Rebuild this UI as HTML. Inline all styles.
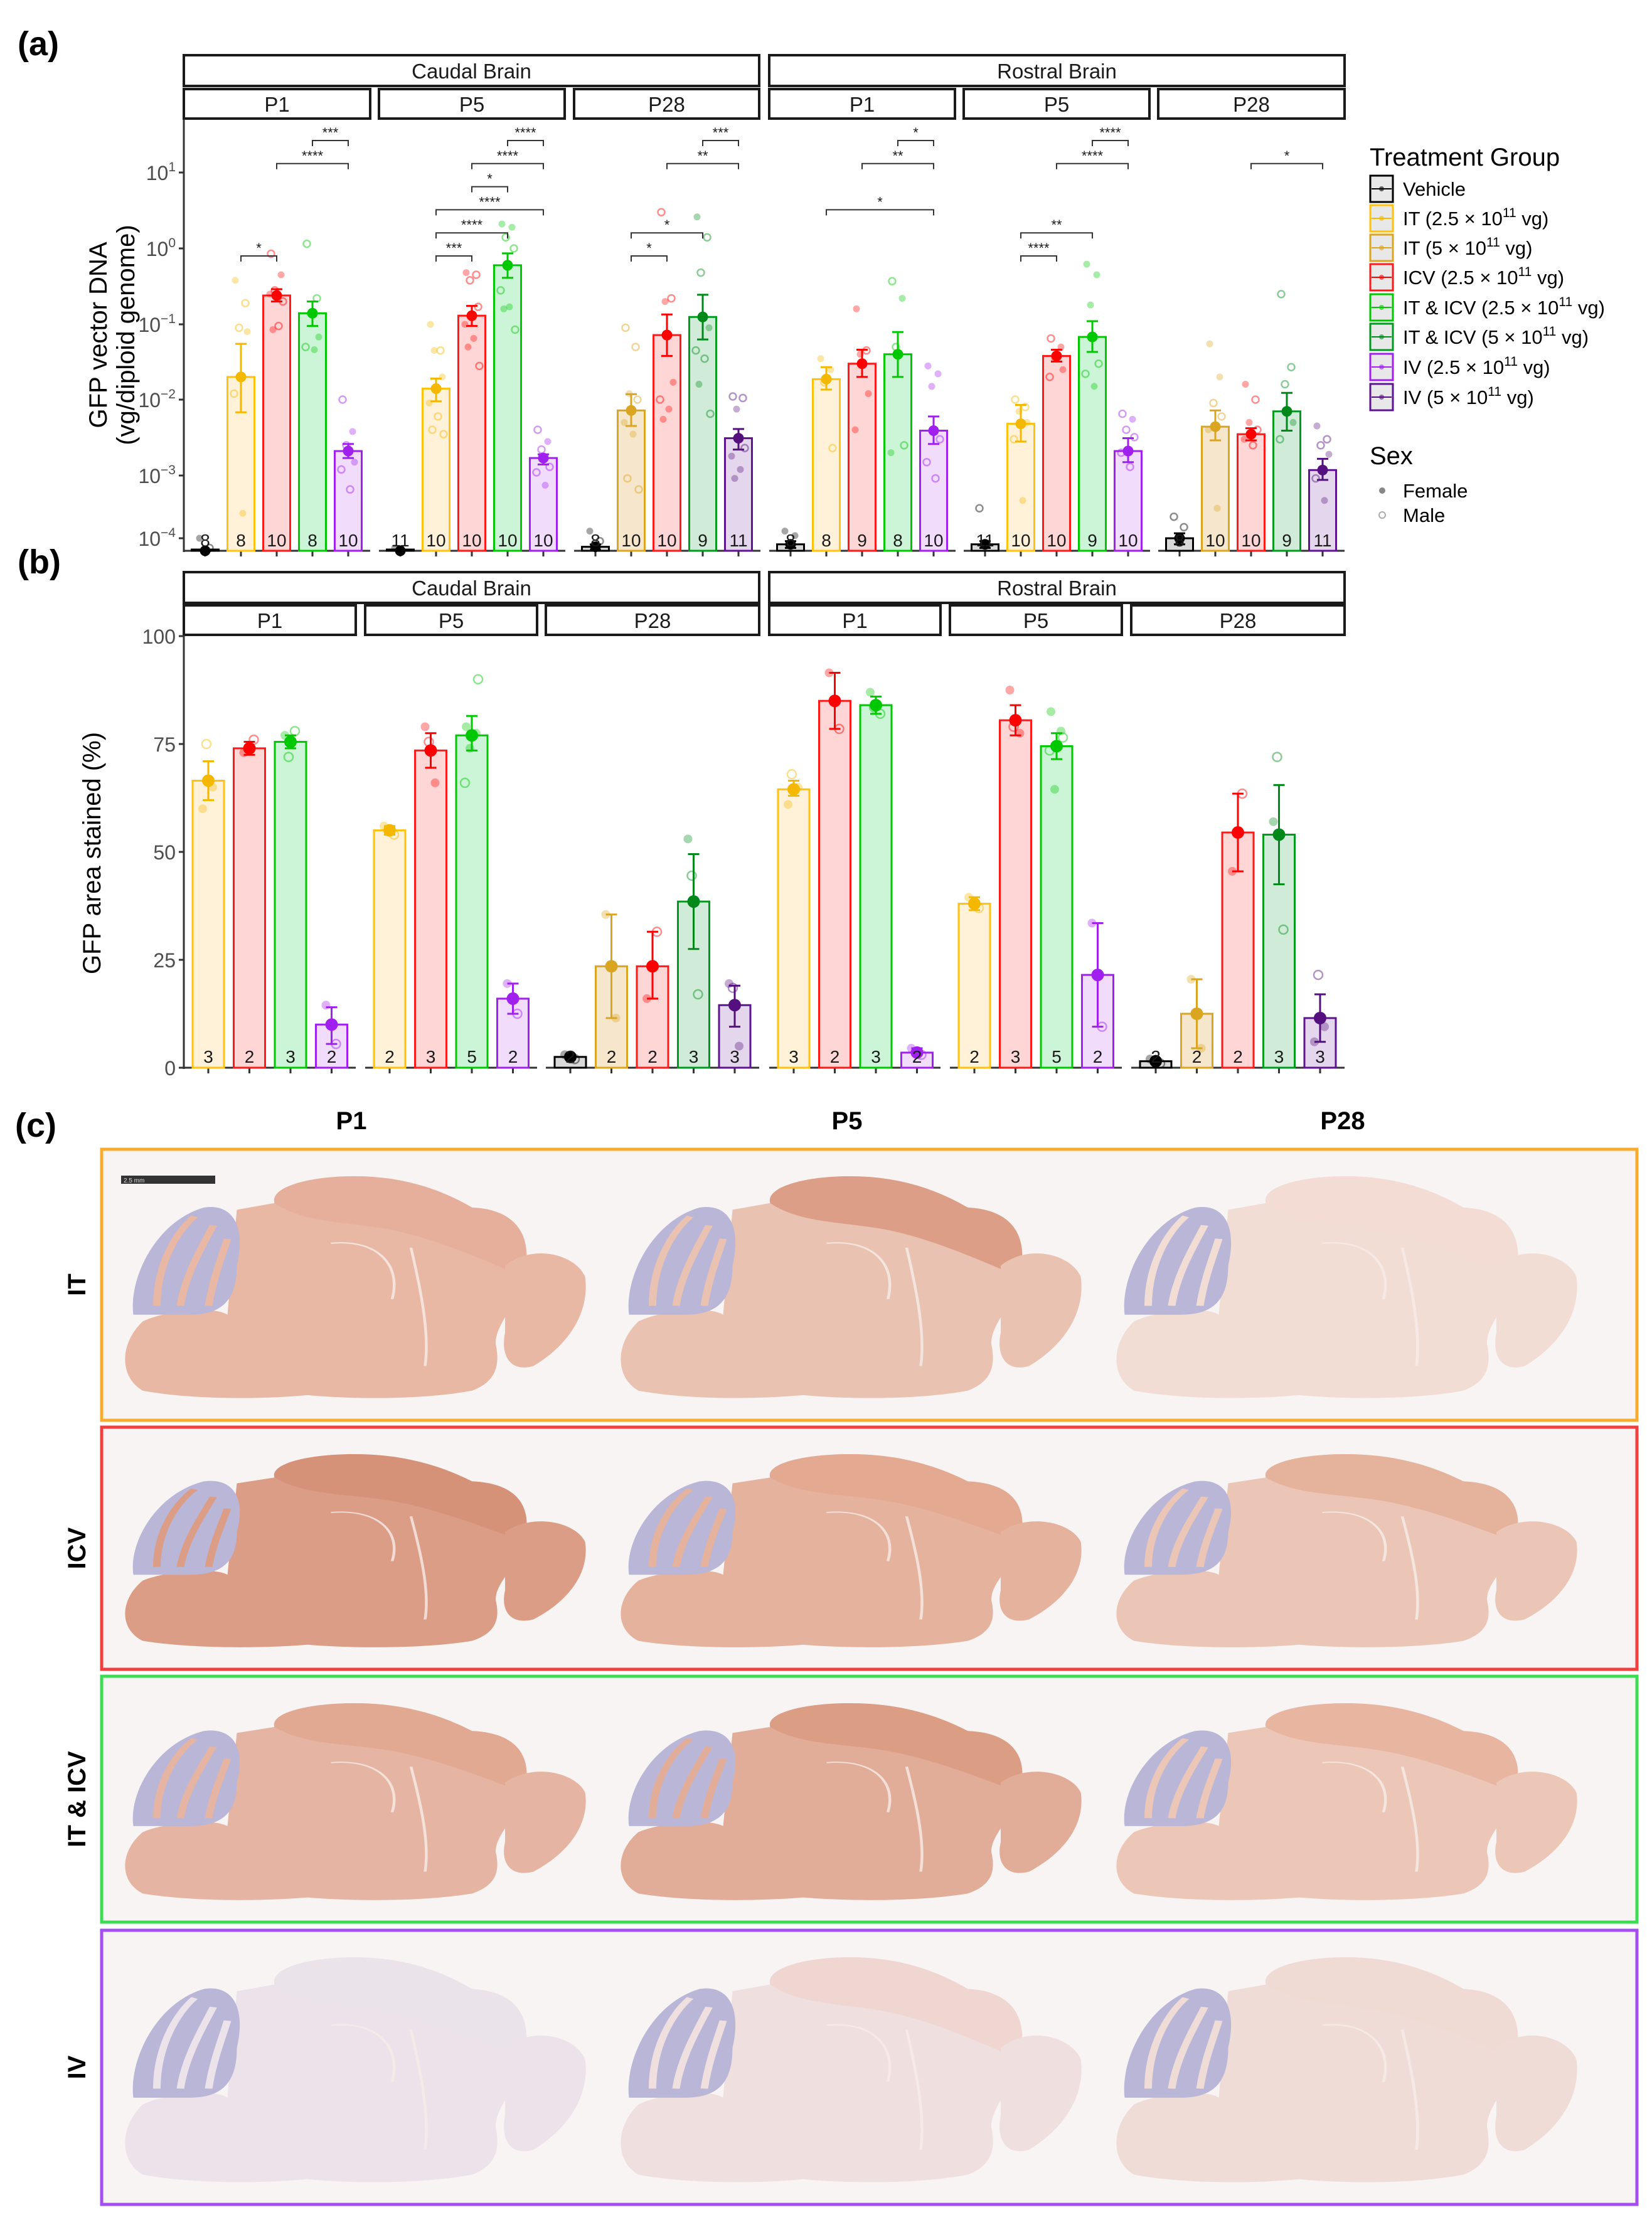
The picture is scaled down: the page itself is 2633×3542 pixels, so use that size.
<!DOCTYPE html>
<html><head><meta charset="utf-8">
<style>
html,body{margin:0;padding:0;background:#fff;}
svg{display:block;font-family:"Liberation Sans",Arial,sans-serif;}
</style></head>
<body>
<svg id="fig" width="2633" height="3542" viewBox="0 0 2633 3542" xmlns="http://www.w3.org/2000/svg">
<rect width="2633" height="3542" fill="#fff"/>
</svg>
<script>
// ---------- DATA ----------
const groupNames = ["Vehicle","IT (2.5","IT (5","ICV (2.5","IT & ICV (2.5","IT & ICV (5","IV (2.5","IV (5"];
const groupStroke = ["#000000","#ffc20e","#daa520","#ff1a1a","#00c800","#009a1e","#a020f0","#5e1390"];
const groupFill = ["#d9d9d9","#fff2d9","#f6e6cc","#ffd6d6","#ccf5d8","#d0ecd8","#f1dcfc","#e4d6ec"];
const groupPoint = ["#000000","#f5b800","#daa520","#ff0000","#00c800","#00891a","#a020f0","#55107f"];
const regionNames = ["Caudal Brain","Rostral Brain"];
const ageNames = ["P1","P5","P28"];

// Panel (a): GFP vector DNA (vg/diploid genome), log scale
const aGroups = [[0,1,3,4,6],[0,1,3,4,6],[0,2,3,5,7],[0,1,3,4,6],[0,1,3,4,6],[0,2,3,5,7]];
const aMeans = [
 [6e-5,0.020,0.24,0.14,0.0021],
 [6e-5,0.014,0.13,0.60,0.0017],
 [7.3e-5,0.0072,0.072,0.125,0.0031],
 [8e-5,0.0187,0.030,0.040,0.0039],
 [8e-5,0.0048,0.038,0.068,0.0021],
 [1e-4,0.0044,0.0035,0.0070,0.00118]];
const aLow = [
 [6e-5,0.0068,0.20,0.095,0.0017],
 [6e-5,0.0095,0.095,0.41,0.0014],
 [6.5e-5,0.0045,0.038,0.063,0.0022],
 [7e-5,0.0136,0.020,0.020,0.0026],
 [7e-5,0.0028,0.032,0.043,0.0015],
 [8e-5,0.0029,0.0029,0.0039,0.00085]];
const aHigh = [
 [6e-5,0.055,0.29,0.20,0.0026],
 [6e-5,0.019,0.175,0.86,0.0019],
 [8e-5,0.0118,0.135,0.245,0.0041],
 [9e-5,0.027,0.046,0.079,0.006],
 [9e-5,0.0085,0.046,0.11,0.0031],
 [1.2e-4,0.0072,0.0042,0.0123,0.00166]];
const aN = [[8,8,10,8,10],[11,10,10,10,10],[8,10,10,9,11],[8,8,9,8,10],[11,10,10,9,10],[8,10,10,9,11]];
// points: [value, sex] sex 0=female(filled) 1=male(open)
const aPoints = [
 [[[1e-4,0],[7e-5,1]],
  [[0.38,0],[0.19,1],[0.09,1],[0.08,0],[0.012,1],[0.00025,0]],
  [[0.85,1],[0.45,0],[0.28,1],[0.2,1],[0.25,0],[0.095,1],[0.085,0]],
  [[1.15,1],[0.22,1],[0.14,0],[0.068,0],[0.05,1],[0.046,0]],
  [[0.01,1],[0.0038,0],[0.0025,1],[0.0015,0],[0.0012,1],[0.0006,1]]],
 [[[7e-5,0]],
  [[0.1,0],[0.045,1],[0.045,0],[0.02,0],[0.009,0],[0.006,1],[0.004,1],[0.0035,1]],
  [[0.48,0],[0.45,1],[0.38,1],[0.17,1],[0.1,0],[0.065,0],[0.05,0],[0.028,1]],
  [[2.1,0],[1.9,0],[1.4,1],[1.0,1],[0.28,1],[0.17,0],[0.16,0],[0.085,1]],
  [[0.004,1],[0.0028,0],[0.0022,1],[0.0013,1],[0.0011,1],[0.0007,0]]],
 [[[1.3e-4,0],[9e-5,1]],
  [[0.09,1],[0.05,1],[0.012,0],[0.01,1],[0.005,0],[0.0035,0],[0.0009,1],[0.0006,1]],
  [[3.0,1],[0.22,1],[0.2,0],[0.017,0],[0.01,1],[0.0075,0],[0.0055,0]],
  [[2.6,0],[1.4,1],[0.48,1],[0.09,0],[0.045,1],[0.035,1],[0.016,0],[0.0065,1]],
  [[0.011,1],[0.0105,1],[0.0075,0],[0.0023,1],[0.0018,0],[0.0012,0],[0.0009,0]]],
 [[[1.3e-4,0],[1.1e-4,0]],
  [[0.035,0],[0.025,0],[0.017,1],[0.0023,1]],
  [[0.16,0],[0.045,1],[0.04,0],[0.012,0],[0.004,0]],
  [[0.37,1],[0.22,0],[0.05,1],[0.0025,1],[0.002,0]],
  [[0.028,0],[0.022,0],[0.015,0],[0.003,1],[0.0015,1],[0.0009,1]]],
 [[[3e-4,1]],
  [[0.01,1],[0.008,1],[0.007,0],[0.005,0],[0.003,1],[0.0004,0]],
  [[0.065,1],[0.05,0],[0.035,0],[0.025,0],[0.02,1]],
  [[0.62,0],[0.45,0],[0.18,0],[0.03,1],[0.022,1],[0.015,0]],
  [[0.0065,1],[0.0055,0],[0.004,1],[0.0032,1],[0.002,1],[0.0013,1]]],
 [[[2.2e-4,1],[1.5e-4,1]],
  [[0.055,0],[0.02,0],[0.009,1],[0.006,1],[0.004,0],[0.0003,0]],
  [[0.016,0],[0.01,1],[0.005,0],[0.004,1],[0.003,0],[0.0025,1]],
  [[0.25,1],[0.027,1],[0.016,1],[0.005,0],[0.003,1]],
  [[0.0045,0],[0.003,1],[0.0025,1],[0.0019,0],[0.0009,1],[0.0004,0]]]];
// significance brackets: [panel, fromBarIdx, toBarIdx, level, label]
const aBrackets = [
 [0,3,4,0,"***"],[0,2,4,1,"****"],[0,1,2,5,"*"],
 [1,3,4,0,"****"],[1,2,4,1,"****"],[1,2,3,2,"*"],[1,1,4,3,"****"],[1,1,3,4,"****"],[1,1,2,5,"***"],
 [2,3,4,0,"***"],[2,2,4,1,"**"],[2,1,3,4,"*"],[2,1,2,5,"*"],
 [3,3,4,0,"*"],[3,2,4,1,"**"],[3,1,4,3,"*"],
 [4,3,4,0,"****"],[4,2,4,1,"****"],[4,1,3,4,"**"],[4,1,2,5,"****"],
 [5,2,4,1,"*"]];
const aTickExp = [1,0,-1,-2,-3,-4];

// Panel (b): GFP area stained (%)
const bGroups = [[1,3,4,6],[1,3,4,6],[0,2,3,5,7],[1,3,4,6],[1,3,4,6],[0,2,3,5,7]];
const bMeans = [[66.5,74,75.5,10],[55,73.5,77,16],[2.5,23.5,23.5,38.5,14.5],[64.5,85,84,3.5],[38,80.5,74.5,21.5],[1.5,12.5,54.5,54,11.5]];
const bLow = [[62,72.5,74,5.5],[54,69.5,73.5,12.5],[2,11.5,16,27.5,9.5],[63,78.5,82,3],[36.5,77,71.5,9.5],[1,4.5,45.5,42.5,6]];
const bHigh = [[71,75.5,77,14],[56,77.5,81.5,19.5],[3,35.5,31.5,49.5,19],[66.5,91.5,86,4.5],[39.5,84,77.5,33.5],[2,20.5,63.5,65.5,17]];
const bN = [[3,2,3,2],[2,3,5,2],[2,2,2,3,3],[3,2,3,2],[2,3,5,2],[2,2,2,3,3]];
const bPoints = [
 [[[60,0],[65,0],[75,1]],[[73,0],[76,1]],[[77,0],[78,1],[72,1]],[[14.5,0],[5.5,1]]],
 [[[56,0],[54,1]],[[79,0],[66,0],[75.5,1]],[[79,0],[77.5,0],[74,0],[90,1],[66,1]],[[19.5,0],[12.5,1]]],
 [[[3,0],[2,1]],[[35.5,0],[11.5,0]],[[16,0],[31.5,1]],[[53,0],[17,1],[44.5,1]],[[19.5,0],[5,0],[18.5,1]]],
 [[[61,0],[65,0],[68,1]],[[91.5,0],[78.5,1]],[[87,0],[82,1],[83.5,1]],[[4.5,0],[3,1]]],
 [[[39.5,0],[37,1]],[[87.5,0],[77.5,0],[79,1]],[[82.5,0],[78,0],[64.5,0],[76.5,1],[73.5,1]],[[33.5,0],[9.5,1]]],
 [[[2,0],[1,1]],[[20.5,0],[4.5,0]],[[45.5,0],[63.5,1]],[[57,0],[32,1],[72,1]],[[6,0],[9.5,0],[21.5,1]]]];
const bTicks = [0,25,50,75,100];

// ---------- HELPERS ----------
const NS="http://www.w3.org/2000/svg";
const svg=document.getElementById('fig');
function mk(tag,attrs,parent,txt){const e=document.createElementNS(NS,tag);for(const k in attrs)e.setAttribute(k,attrs[k]);if(txt!==undefined)e.textContent=txt;(parent||svg).appendChild(e);return e;}
const jit=[-9,7,-3,10,-11,3,-6,12,-1,8,-12];

// ---------- PANEL A ----------
const aLeft=[293,604,915,1226,1536,1846], aW=297;
const aLogs=[-4,-3,-2,-1,0,1], aPx=[858,758,637,517,396,275];
function yA(v){let l=Math.log10(v);
 if(l<=-4)return Math.min(878,858+(-4-l)*100);
 for(let i=0;i<aLogs.length-1;i++){if(l<=aLogs[i+1]){const t=(l-aLogs[i]);return aPx[i]+t*(aPx[i+1]-aPx[i]);}}
 return 275+(l-1)*(-120.6);}
function xA(p,i){return aLeft[p]+34+i*57;}

function strips(yTop,yTop2,lefts,widths,gName){
 // region strips
 [[293,1210],[1226,2143]].forEach((r,ri)=>{
  const g=mk('g',{});
  
  
  mk('rect',{x:r[0],y:yTop,width:r[1]-r[0],height:49,fill:'#fff',stroke:'#1a1a1a','stroke-width':4},g);
  mk('text',{x:(r[0]+r[1])/2,y:yTop+37,'font-size':33,'text-anchor':'middle',fill:'#1a1a1a'},g,regionNames[ri]);
 });
 lefts.forEach((l,p)=>{
  const g=mk('g',{});
  
  
  mk('rect',{x:l,y:yTop2,width:widths[p],height:47,fill:'#fff',stroke:'#1a1a1a','stroke-width':4},g);
  mk('text',{x:l+widths[p]/2,y:yTop2+36,'font-size':33,'text-anchor':'middle',fill:'#1a1a1a'},g,ageNames[p%3]);
 });
}

function drawBars(gName,p,groups,means,lows,highs,ns,pts,xf,yf,bw,baseY,nY,r){
 const g=mk('g',{});
 
 
 groups.forEach((gi,i)=>{
  const cx=xf(p,i), top=yf(means[i]);
  const bar=mk('rect',{x:cx-bw/2,y:Math.min(top,baseY-2),width:bw,height:Math.max(2,baseY-top),fill:groupFill[gi],stroke:groupStroke[gi],'stroke-width':3},g);
  
  
  pts[i].forEach((pt,k)=>{
   const px=cx+jit[k%jit.length], py=yf(pt[0]);
   const c=pt[1]===0?mk('circle',{cx:px,cy:py,r:r,fill:groupPoint[gi],'fill-opacity':0.35},g):mk('circle',{cx:px,cy:py,r:r,fill:'none',stroke:groupPoint[gi],'stroke-opacity':0.45,'stroke-width':2.5},g);
   
   
  });
  const yl=yf(lows[i]), yh=yf(highs[i]);
  const eb=mk('path',{d:`M${cx},${yl}V${yh}M${cx-9},${yl}H${cx+9}M${cx-9},${yh}H${cx+9}`,stroke:groupPoint[gi],'stroke-width':3,fill:'none'},g);
  
  
  const m=mk('circle',{cx:cx,cy:top,r:r+3,fill:groupPoint[gi]},g);
  
  
  const t=mk('text',{x:cx,y:nY,'font-size':28,'text-anchor':'middle',fill:'#1a1a1a'},g,String(ns[i]));
  
  
 });
}

// (a) label
mk('text',{x:28,y:88,'font-size':54,'font-weight':'bold',fill:'#000',},svg,'(a)');
strips(88,142,aLeft,[297,296,295,296,296,297],'a');
// y axis
mk('line',{x1:293,y1:190,x2:293,y2:880,stroke:'#333','stroke-width':3,});
aTickExp.forEach(e=>{
 const y=yA(Math.pow(10,e));
 mk('line',{x1:285,y1:y,x2:293,y2:y,stroke:'#333','stroke-width':3});
 const t=mk('text',{x:280,y:y+12,'font-size':32,'text-anchor':'end',fill:'#4d4d4d'});
 
 
 const s1=mk('tspan',{},t,'10');
 const s2=mk('tspan',{dy:-14,'font-size':21},t,String(e).replace('-','\u2212'));
 t.setAttribute('x',280);
});
const aTitle=mk('text',{transform:'translate(0,0)','font-size':40,'text-anchor':'middle',fill:'#000',});
mk('tspan',{x:0,y:0},aTitle,'GFP vector DNA');
mk('tspan',{x:0,y:44},aTitle,'(vg/diploid genome)');
aTitle.setAttribute('transform','translate(170,534) rotate(-90)');
aLeft.forEach((l,p)=>{
 mk('line',{x1:l,y1:878,x2:l+aW,y2:878,stroke:'#333','stroke-width':3,});
 aGroups[p].forEach((g,i)=>mk('line',{x1:xA(p,i),y1:878,x2:xA(p,i),y2:887,stroke:'#333','stroke-width':3}));
 drawBars('a',p,aGroups[p],aMeans[p],aLow[p],aHigh[p],aN[p],aPoints[p],xA,yA,43,878,871,5.5);
});
aBrackets.forEach(b=>{
 const [p,i1,i2,lvl,lab]=b;
 const x1=xA(p,i1),x2=xA(p,i2),y=224+lvl*36.8;
 const g=mk('g',{});
 
 
 mk('path',{d:`M${x1},${y+9}V${y}H${x2}V${y+9}`,stroke:'#333','stroke-width':2,fill:'none'},g);
 mk('text',{x:(x1+x2)/2,y:y-5,'font-size':22,'text-anchor':'middle',fill:'#1a1a1a'},g,lab);
});
// legend
mk('text',{x:2183,y:264,'font-size':40,fill:'#000',},svg,'Treatment Group');
const legY=[301,348,395,442,490,537,585,633];
groupNames.forEach((n,i)=>{
 const g=mk('g',{});
 
 
 const y=legY[i];
 mk('rect',{x:2184,y:y-21,width:36,height:42,fill:'#e8e8e8',stroke:groupStroke[i],'stroke-width':3},g);
 mk('line',{x1:2186,y1:y,x2:2218,y2:y,stroke:groupPoint[i],'stroke-width':2},g);
 mk('circle',{cx:2202,cy:y,r:4,fill:groupPoint[i],'fill-opacity':0.6},g);
 const t=mk('text',{x:2236,y:y+11,'font-size':31,fill:'#000'},g);
 if(i===0){t.textContent='Vehicle';}
 else{mk('tspan',{},t,n+' \u00d7 10');mk('tspan',{dy:-13,'font-size':21},t,'11');mk('tspan',{dy:13},t,' vg)');}
});
mk('text',{x:2183,y:740,'font-size':40,fill:'#000',},svg,'Sex');
const sx1=mk('g',{});
mk('circle',{cx:2203,cy:782,r:5,fill:'#888'},sx1);mk('text',{x:2236,y:793,'font-size':31},sx1,'Female');
const sx2=mk('g',{});
mk('circle',{cx:2203,cy:821,r:5,fill:'none',stroke:'#aaa','stroke-width':2},sx2);mk('text',{x:2236,y:832,'font-size':31},sx2,'Male');

// ---------- PANEL B ----------
const bLeft=[293,582,870,1226,1514,1803], bWid=[274,274,340,273,274,340];
function yB(v){return 1702-v*6.88;}
function xB(p,i){return bLeft[p]+39+i*65.5;}
mk('text',{x:28,y:914,'font-size':54,'font-weight':'bold',fill:'#000',},svg,'(b)');
strips(912,965,bLeft,bWid,'b');
mk('line',{x1:293,y1:1013,x2:293,y2:1704,stroke:'#333','stroke-width':3,});
bTicks.forEach(v=>{
 const y=yB(v);
 mk('line',{x1:285,y1:y,x2:293,y2:y,stroke:'#333','stroke-width':3});
 const t=mk('text',{x:280,y:y+12,'font-size':32,'text-anchor':'end',fill:'#4d4d4d'},svg,String(v));
 
 
});
const bTitle=mk('text',{'font-size':40,'text-anchor':'middle',fill:'#000',transform:'translate(160,1360) rotate(-90)',},svg,'GFP area stained (%)');
bLeft.forEach((l,p)=>{
 mk('line',{x1:l,y1:1702,x2:l+bWid[p],y2:1702,stroke:'#333','stroke-width':3,});
 bGroups[p].forEach((g,i)=>mk('line',{x1:xB(p,i),y1:1702,x2:xB(p,i),y2:1711,stroke:'#333','stroke-width':3}));
 drawBars('b',p,bGroups[p],bMeans[p],bLow[p],bHigh[p],bN[p],bPoints[p],xB,yB,50,1702,1694,7);
});

// ---------- PANEL C ----------
mk('text',{x:24,y:1812,'font-size':54,'font-weight':'bold',fill:'#000',},svg,'(c)');
const colX=[580,1370,2160];
ageNames.forEach((a,i)=>{const t=mk('text',{x:colX[i]-20,y:1800,'font-size':40,'font-weight':'bold','text-anchor':'middle'},svg,a);});
const rows=[
 {name:'IT',y0:1830,y1:2266,col:'#f8ac2e',fills:['#e8b8a4','#eac2b2','#f2ddd4'],top:['#e4ad98','#d8957c','#f1dcd3']},
 {name:'ICV',y0:2273,y1:2663,col:'#f43f3f',fills:['#dc9d86','#e5b29d','#ebc6b6'],top:['#d58f76','#e2a68f','#e3ac95']},
 {name:'IT & ICV',y0:2670,y1:3066,col:'#3ddc55',fills:['#e5b4a2','#e2ad98','#ecc6b6'],top:['#e0a58f','#d9997f','#e6b09b']},
 {name:'IV',y0:3075,y1:3516,col:'#a64df2',fills:['#ece3ea','#efdfdf','#f0dcd6'],top:['#ebe2ea','#efd3cd','#efd9d3']}];
const body="M25,15 L33,12 C32,5 40,0 50,0 C62,0 70,8 75,14 C85,15 88,28 86,45 C84,60 80,66 80,75 C81,85 80,92 75,96 C65,100 50,100 40,98 C30,100 15,100 5,96 C0,90 0,75 5,65 C10,60 20,58 23,62 Z";
const cereb="M3,62 C2,45 8,20 18,14 C24,12 27,22 25,40 C25,55 22,62 15,62 Z";
const cortex="M33,12 C32,5 40,0 50,0 C62,0 70,8 75,14 C85,15 88,28 86,45 C80,40 70,30 60,25 C50,20 40,22 33,12 Z";
const bulb="M82,40 C88,30 97,35 99,45 C100,60 96,75 88,85 C83,88 81,80 82,70 Z";
rows.forEach((r,ri)=>{
 const g=mk('g',{});
 
 
 mk('rect',{x:162,y:r.y0+2,width:2447,height:r.y1-r.y0-4,fill:'#f8f4f3',stroke:r.col,'stroke-width':5},g);
 const lt=mk('text',{'font-size':40,'font-weight':'bold','text-anchor':'middle',transform:`translate(136,${(r.y0+r.y1)/2}) rotate(-90)`},g,r.name);
 
 
 const h=r.y1-r.y0;
 colX.forEach((cx,ci)=>{
  const bw=750, bh=h-80, bx=cx-bw/2-15, by=r.y0+45;
  const bg=mk('g',{transform:`translate(${bx},${by}) scale(${bw/100},${bh/100})`},g);
  
  
  mk('path',{d:body,fill:r.fills[ci]},bg);
  mk('path',{d:cortex,fill:r.top[ci],opacity:0.8},bg);
  mk('path',{d:bulb,fill:r.fills[ci]},bg);
  mk('path',{d:cereb,fill:'#b9b6d8'},bg);
  mk('path',{d:"M8,58 C8,40 12,25 16,18 M13,58 C14,44 18,30 20,22 M19,58 C20,45 22,35 23,28",stroke:r.fills[ci],'stroke-width':1.6,fill:'none','vector-effect':'none'},bg);
  mk('path',{d:"M45,30 C55,28 60,40 58,55 M62,32 C64,50 66,70 65,85",stroke:'#f6ece9','stroke-width':0.6,fill:'none',opacity:0.8},bg);
 });
});
const sb=mk('g',{});
mk('rect',{x:193,y:1874,width:150,height:13,fill:'#333'},sb);
mk('text',{x:197,y:1885,'font-size':10,fill:'#ddd'},sb,'2.5 mm');
</script>
</body></html>
